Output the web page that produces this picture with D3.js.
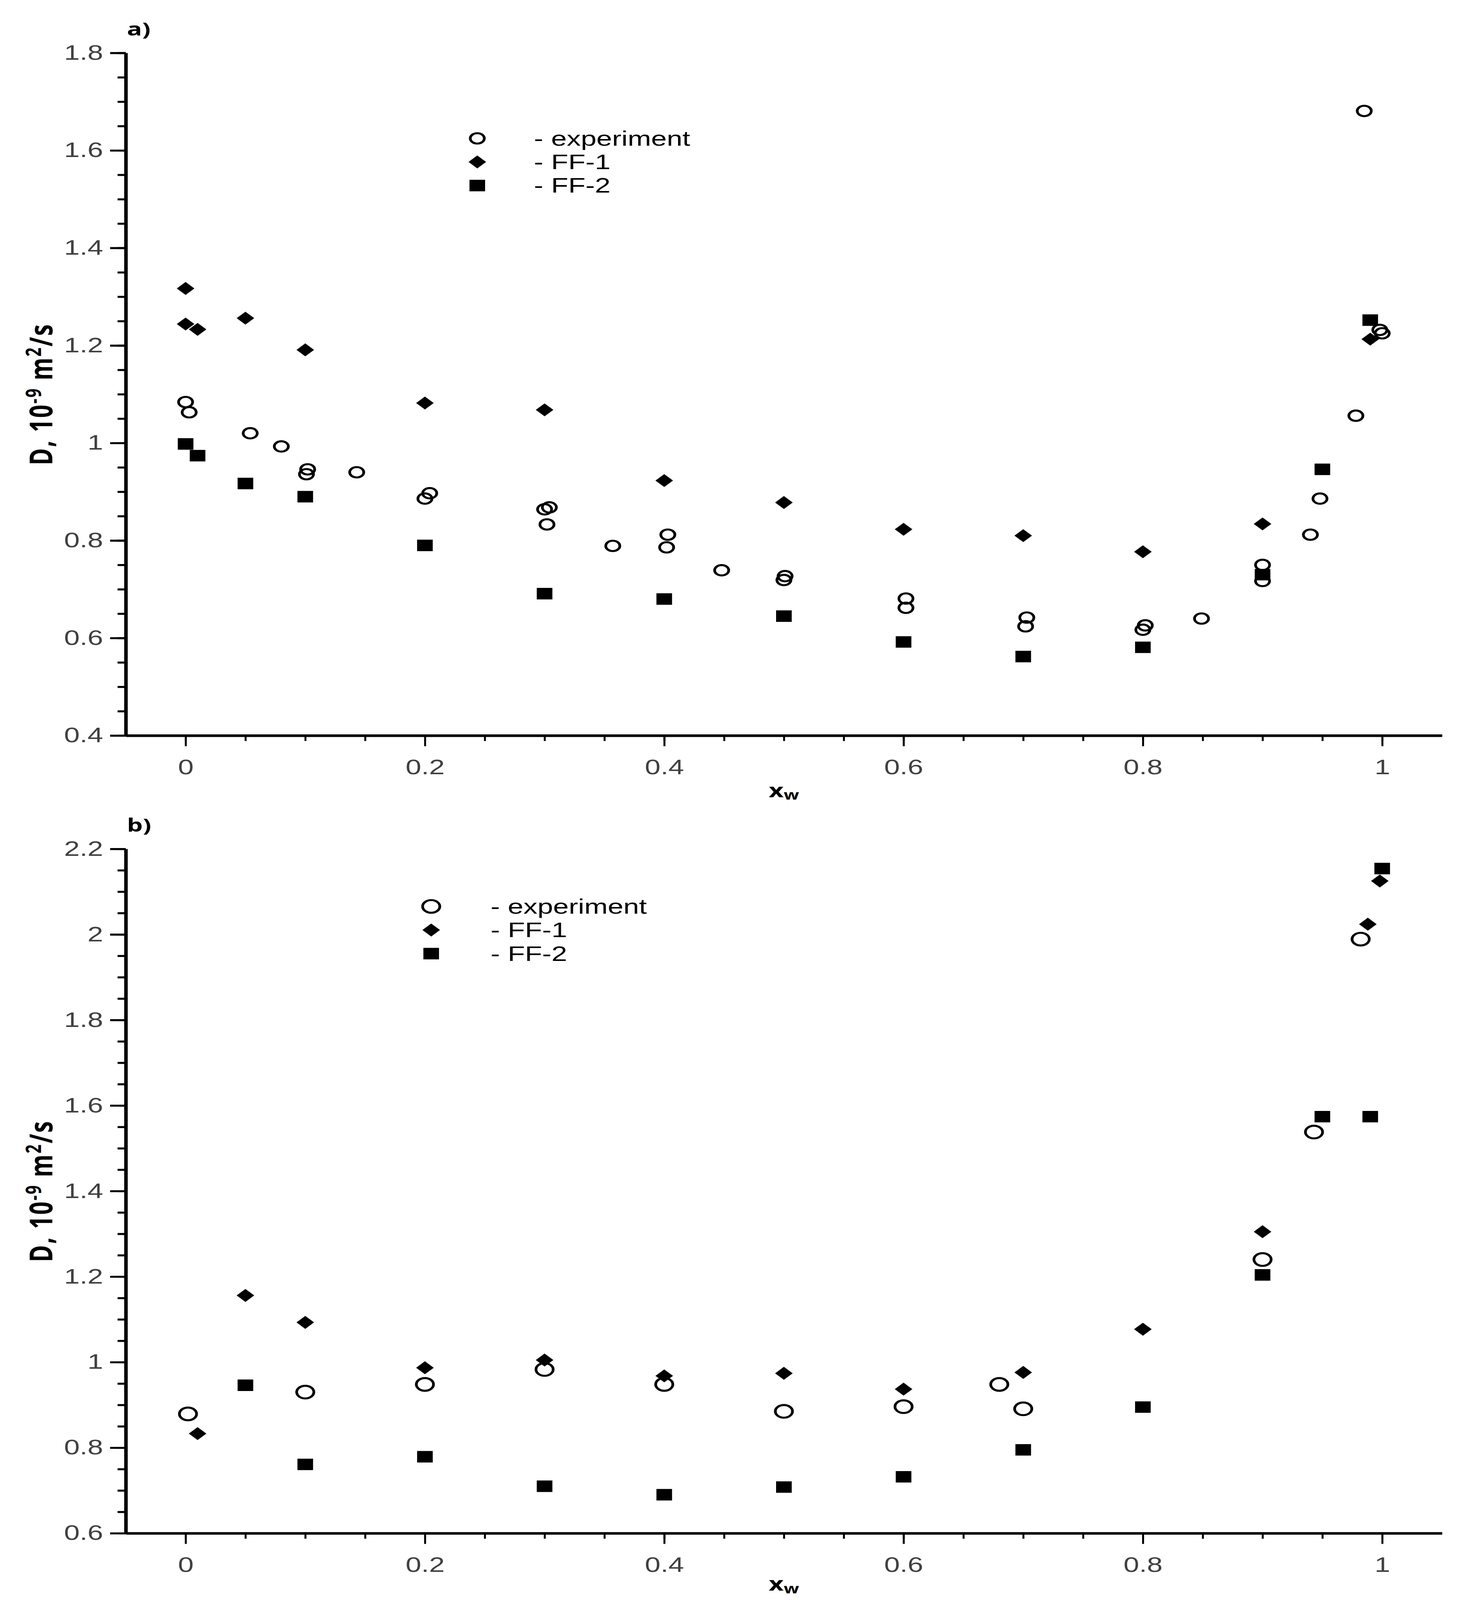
<!DOCTYPE html>
<html>
<head>
<meta charset="utf-8">
<script src="https://cdn.jsdelivr.net/npm/d3@7"></script>
<style>
  html, body { margin: 0; padding: 0; width: 100%; height: 100%; overflow: hidden; background: #fff; }
  svg { display: block; width: 100vw; height: 100vh; }
</style>
</head>
<body>
<svg id="viz"></svg>
<script>
// panel a
var aExpX = [0, 0.003, 0.054, 0.08, 0.102, 0.101, 0.143, 0.2, 0.204, 0.3, 0.304, 0.302, 0.357, 0.402, 0.403, 0.448, 0.501, 0.5, 0.602, 0.602, 0.702, 0.703, 0.8, 0.802, 0.849, 0.9, 0.9, 0.94, 0.948, 0.978, 0.985, 0.998, 1.0];
var aExpY = [1.084, 1.063, 1.02, 0.993, 0.946, 0.936, 0.94, 0.886, 0.897, 0.864, 0.868, 0.833, 0.789, 0.786, 0.812, 0.739, 0.727, 0.719, 0.681, 0.662, 0.624, 0.642, 0.617, 0.626, 0.64, 0.75, 0.717, 0.812, 0.886, 1.056, 1.681, 1.232, 1.225];
var aFF1X = [0, 0, 0.01, 0.05, 0.1, 0.2, 0.3, 0.4, 0.5, 0.6, 0.7, 0.8, 0.9, 0.99];
var aFF1Y = [1.317, 1.244, 1.233, 1.256, 1.191, 1.082, 1.068, 0.923, 0.878, 0.823, 0.81, 0.777, 0.834, 1.213];
var aFF2X = [0, 0.01, 0.05, 0.1, 0.2, 0.3, 0.4, 0.5, 0.6, 0.7, 0.8, 0.9, 0.95, 0.99];
var aFF2Y = [0.998, 0.974, 0.917, 0.89, 0.79, 0.691, 0.68, 0.645, 0.592, 0.562, 0.581, 0.73, 0.946, 1.252];

// panel b
var bExpX = [0.002, 0.1, 0.2, 0.3, 0.4, 0.5, 0.6, 0.68, 0.7, 0.9, 0.943, 0.982];
var bExpY = [0.879, 0.93, 0.948, 0.983, 0.948, 0.885, 0.896, 0.948, 0.891, 1.24, 1.538, 1.989];
var bFF1X = [0.01, 0.05, 0.1, 0.2, 0.3, 0.4, 0.5, 0.6, 0.7, 0.8, 0.9, 0.988, 0.998];
var bFF1Y = [0.833, 1.156, 1.093, 0.987, 1.005, 0.968, 0.974, 0.937, 0.976, 1.077, 1.305, 2.024, 2.125];
var bFF2X = [0.05, 0.1, 0.2, 0.3, 0.4, 0.5, 0.6, 0.7, 0.8, 0.9, 0.95, 0.99, 1.0];
var bFF2Y = [0.946, 0.761, 0.779, 0.71, 0.69, 0.708, 0.732, 0.795, 0.895, 1.204, 1.574, 1.574, 2.154];

var xTicks = [0, 0.2, 0.4, 0.6, 0.8, 1];
var aYTicks = [0.4, 0.6, 0.8, 1, 1.2, 1.4, 1.6, 1.8];
var bYTicks = [0.6, 0.8, 1, 1.2, 1.4, 1.6, 1.8, 2, 2.2];
var legendLabels = ["- experiment", "- FF-1", "- FF-2"];

var width = 3738;
var height = 5562;

// drawn in a 3738x5562 frame, stretched to whatever the window is
var svg = d3.select("#viz")
	.attr("viewBox", "0 0 " + width + " " + height)
	.attr("preserveAspectRatio", "none")

svg.append("rect").attr("width", width).attr("height", height).attr("fill", "#fff")

var scaleX = d3.scaleLinear().domain([-0.05, 1.05]).range([322, 3692])

// square turned 45 degrees
var diamond = {
	draw: function(context, size) {
		var r = Math.sqrt(size) / 2;
		context.moveTo(0, -r);
		context.lineTo(r, 0);
		context.lineTo(0, r);
		context.lineTo(-r, 0);
		context.closePath();
	}
}

function zip(xs, ys) {
	return xs.map((x, i) => ({x: x, y: ys[i]}))
}

function drawPanel(opt) {
	var g = svg.append("g")
	var scaleY = d3.scaleLinear().domain(opt.yDomain).range([opt.bottom, opt.top])

	var minorY = d3.range(opt.yDomain[0], opt.yDomain[1] + 0.001, 0.05).map(v => +v.toFixed(2))
	var minorX = d3.range(0, 1.001, 0.05).map(v => +v.toFixed(2))

	// minor ticks
	g.append("g")
		.attr("transform", "translate(322,0)")
		.call(d3.axisLeft(scaleY).tickValues(minorY).tickSize(21).tickSizeOuter(0).tickFormat(""))
		.call(a => a.select(".domain").remove())
		.selectAll("line").attr("stroke", "#000").attr("stroke-width", 7)
	g.append("g")
		.attr("transform", "translate(0," + opt.bottom + ")")
		.call(d3.axisBottom(scaleX).tickValues(minorX).tickSize(19).tickSizeOuter(0).tickFormat(""))
		.call(a => a.select(".domain").remove())
		.selectAll("line").attr("stroke", "#000").attr("stroke-width", 5)

	// major ticks
	var yAxis = g.append("g")
		.attr("transform", "translate(322,0)")
		.call(d3.axisLeft(scaleY).tickValues(opt.yTicks).tickSize(40).tickSizeOuter(0).tickPadding(18)
			.tickFormat(d => String(+d.toFixed(1))))
	yAxis.select(".domain").attr("stroke", "#000").attr("stroke-width", 9)
	yAxis.selectAll("line").attr("stroke", "#000").attr("stroke-width", 7)
	yAxis.selectAll("text")
		.attr("fill", "#404040")
		.style("font-family", "'Liberation Sans', Arial, sans-serif")
		.style("font-size", "72px")

	var xAxis = g.append("g")
		.attr("transform", "translate(0," + opt.bottom + ")")
		.call(d3.axisBottom(scaleX).tickValues(xTicks).tickSize(37).tickSizeOuter(0).tickPadding(46)
			.tickFormat(d => String(d)))
	xAxis.select(".domain").attr("stroke", "#000").attr("stroke-width", 9)
	xAxis.selectAll("line").attr("stroke", "#000").attr("stroke-width", 5)
	xAxis.selectAll("text")
		.attr("fill", "#404040")
		.style("font-family", "'Liberation Sans', Arial, sans-serif")
		.style("font-size", "72px")

	// panel letter
	g.append("text")
		.attr("x", 325).attr("y", opt.top - 60)
		.style("font-family", "'Open Sans', sans-serif")
		.style("font-weight", 700)
		.style("font-size", "64px")
		.text(opt.letter)

	// axis titles
	var yt = g.append("text")
		.attr("transform", "translate(134," + ((opt.top + opt.bottom) / 2) + ") rotate(-90)")
		.attr("text-anchor", "middle")
		.style("font-family", "'Open Sans', sans-serif")
		.style("font-weight", 700)
		.style("font-size", "80px")
		.style("letter-spacing", "4px")
	yt.append("tspan").text("D, 10")
	yt.append("tspan").attr("dy", -29).style("font-size", "54px").text("-9")
	yt.append("tspan").attr("dy", 29).text(" m")
	yt.append("tspan").attr("dy", -29).style("font-size", "54px").text("2")
	yt.append("tspan").attr("dy", 29).text("/s")

	var xt = g.append("text")
		.attr("x", 2007).attr("y", opt.bottom + opt.xTitleGap)
		.attr("text-anchor", "middle")
		.style("font-family", "'Open Sans', sans-serif")
		.style("font-weight", 700)
		.style("font-size", "66px")
	xt.append("tspan").text("x")
	xt.append("tspan").attr("dy", 9).style("font-size", "46px").text("w")

	// series
	g.selectAll(".exp")
		.data(zip(opt.expX, opt.expY))
		.join("circle")
		.attr("class", "exp")
		.attr("cx", d => scaleX(d.x))
		.attr("cy", d => scaleY(d.y))
		.attr("r", opt.circleR)
		.attr("fill", "none")
		.attr("stroke", "#000")
		.attr("stroke-width", 7)

	g.selectAll(".ff1")
		.data(zip(opt.ff1X, opt.ff1Y))
		.join("path")
		.attr("class", "ff1")
		.attr("transform", d => "translate(" + scaleX(d.x) + "," + scaleY(d.y) + ")")
		.attr("d", d3.symbol().type(diamond).size(45 * 45))
		.attr("fill", "#000")

	g.selectAll(".ff2")
		.data(zip(opt.ff2X, opt.ff2Y))
		.join("path")
		.attr("class", "ff2")
		.attr("transform", d => "translate(" + scaleX(d.x) + "," + scaleY(d.y) + ")")
		.attr("d", d3.symbol().type(d3.symbolSquare).size(40 * 40))
		.attr("fill", "#000")

	// legend
	var leg = g.append("g")
	legendLabels.forEach((label, i) => {
		var y = opt.legY + i * 82;
		if (i == 0) {
			leg.append("circle").attr("cx", opt.legX).attr("cy", y).attr("r", opt.legR)
				.attr("fill", "none").attr("stroke", "#000").attr("stroke-width", 7)
		} else {
			leg.append("path")
				.attr("transform", "translate(" + opt.legX + "," + y + ")")
				.attr("d", d3.symbol().type(i == 1 ? diamond : d3.symbolSquare).size(i == 1 ? 45 * 45 : 40 * 40))
				.attr("fill", "#000")
		}
		leg.append("text")
			.attr("x", opt.legX + opt.legGap).attr("y", y + 25)
			.style("font-family", "'Liberation Sans', Arial, sans-serif")
			.style("font-size", "72px")
			.attr("fill", "#000")
			.text(label)
	})
}

drawPanel({
	letter: "a)", top: 184, bottom: 2557, yDomain: [0.4, 1.8], yTicks: aYTicks,
	expX: aExpX, expY: aExpY, ff1X: aFF1X, ff1Y: aFF1Y, ff2X: aFF2X, ff2Y: aFF2Y,
	circleR: 18, legX: 1222, legY: 481, legR: 18, legGap: 145, xTitleGap: 214
})

drawPanel({
	letter: "b)", top: 2951, bottom: 5330, yDomain: [0.6, 2.2], yTicks: bYTicks,
	expX: bExpX, expY: bExpY, ff1X: bFF1X, ff1Y: bFF1Y, ff2X: bFF2X, ff2Y: bFF2Y,
	circleR: 22, legX: 1104, legY: 3151, legR: 22, legGap: 152, xTitleGap: 200
})
</script>
</body>
</html>
